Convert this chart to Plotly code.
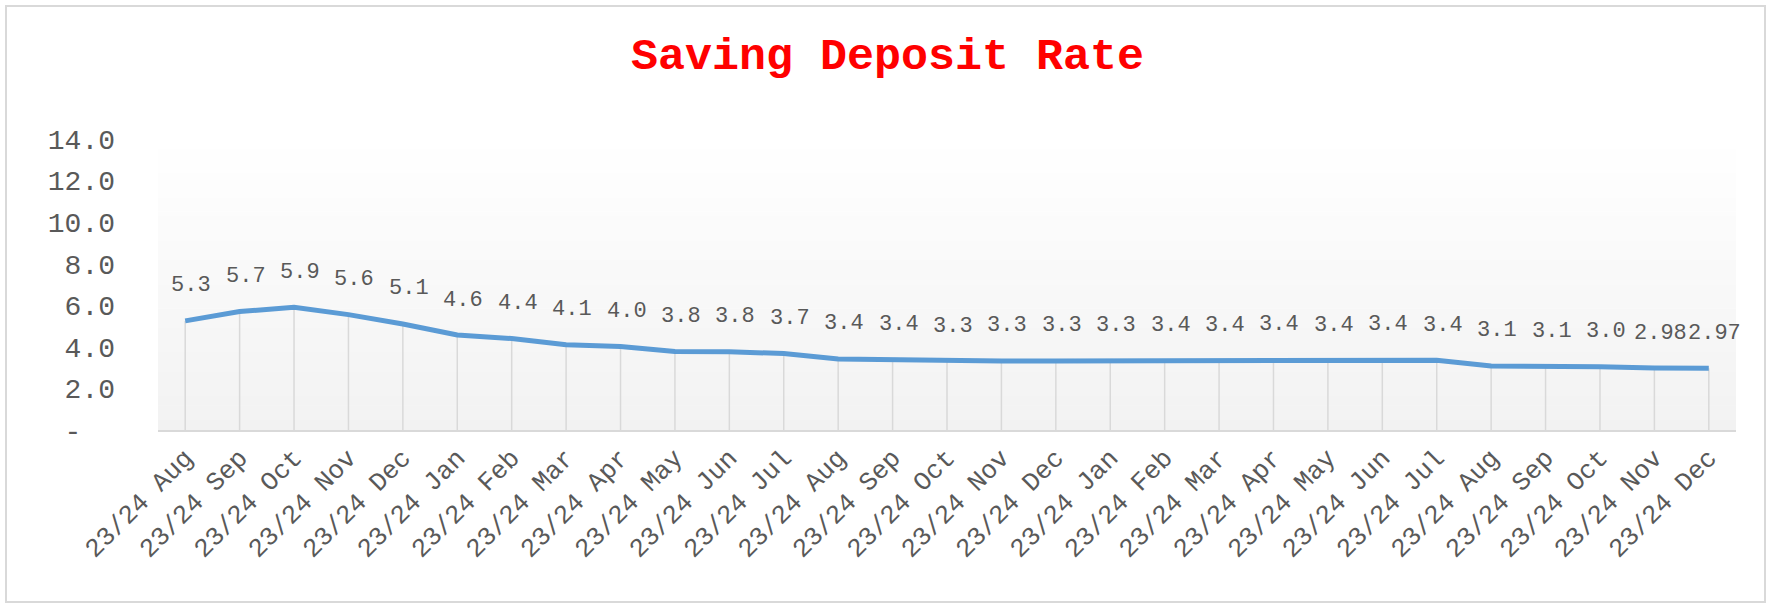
import plotly.graph_objects as go

# categories (fiscal-year month labels, as printed on the chart)
months = [
    "Aug", "Sep", "Oct", "Nov", "Dec", "Jan", "Feb", "Mar", "Apr", "May",
    "Jun", "Jul", "Aug", "Sep", "Oct", "Nov", "Dec", "Jan", "Feb", "Mar",
    "Apr", "May", "Jun", "Jul", "Aug", "Sep", "Oct", "Nov", "Dec",
]
period = "23/24"

# saving deposit rate, %
rates = [
    5.25, 5.70, 5.90, 5.55, 5.10, 4.57, 4.40, 4.10, 4.02, 3.78,
    3.76, 3.68, 3.42, 3.38, 3.30, 3.32, 3.32, 3.32, 3.35, 3.35,
    3.38, 3.36, 3.38, 3.36, 3.08, 3.07, 3.04, 2.98, 2.97,
]
rate_labels = [
    "5.3", "5.7", "5.9", "5.6", "5.1", "4.6", "4.4", "4.1", "4.0", "3.8",
    "3.8", "3.7", "3.4", "3.4", "3.3", "3.3", "3.3", "3.3", "3.4", "3.4",
    "3.4", "3.4", "3.4", "3.4", "3.1", "3.1", "3.0", "2.98", "2.97",
]

y_ticks = [0, 2, 4, 6, 8, 10, 12, 14]
y_tick_text = ["-\u00a0\u00a0", "2.0", "4.0", "6.0", "8.0", "10.0", "12.0", "14.0"]

FONT = "Courier New, Liberation Mono, monospace"
GREY_TEXT = "#595959"
LINE_BLUE = "#5b9bd5"

W, H = 1775, 607
M = {"l": 158, "r": 39, "t": 139, "b": 177}
PW = W - M["l"] - M["r"]
PH = H - M["t"] - M["b"]


def px_x(px):
    return (px - M["l"]) / PW


def px_y(py):
    return (H - M["b"] - py) / PH


x_idx = list(range(len(months)))
x_text = [f"{period} {m}" for m in months]

drop_x, drop_y = [], []
for i, v in zip(x_idx, rates):
    drop_x += [i, i, None]
    drop_y += [0, v, None]

fig = go.Figure()

fig.add_trace(
    go.Scatter(
        x=drop_x,
        y=drop_y,
        mode="lines",
        line={"color": "#d9d9d9", "width": 1.5},
        hoverinfo="skip",
        showlegend=False,
    )
)
fig.add_trace(
    go.Scatter(
        x=x_idx,
        y=rates,
        mode="lines",
        line={"color": LINE_BLUE, "width": 5},
        showlegend=False,
    )
)

for i, v, lab in zip(x_idx, rates, rate_labels):
    fig.add_annotation(
        x=i,
        y=v,
        text=lab,
        showarrow=False,
        yshift=35,
        xshift=6,
        font={"family": FONT, "size": 22, "color": GREY_TEXT},
    )

# vertical white-to-grey gradient for the plot area
shapes = []
bands = 60
for k in range(bands):
    t = k / bands
    c = int(round(242 + (255 - 242) * (t + 0.5 / bands)))
    shapes.append(
        {
            "type": "rect",
            "xref": "x domain",
            "yref": "y domain",
            "x0": 0,
            "x1": 1,
            "y0": t,
            "y1": t + 1 / bands + 0.002,
            "fillcolor": f"rgb({c},{c},{c})",
            "line": {"width": 0},
            "layer": "below",
        }
    )

# outer chart border
shapes.append(
    {
        "type": "rect",
        "xref": "paper",
        "yref": "paper",
        "x0": px_x(6),
        "x1": px_x(1765),
        "y0": px_y(602),
        "y1": px_y(6),
        "line": {"color": "#d9d9d9", "width": 2},
        "fillcolor": "rgba(0,0,0,0)",
        "layer": "below",
    }
)

fig.update_layout(
    width=W,
    height=H,
    margin=M,
    paper_bgcolor="#ffffff",
    plot_bgcolor="#ffffff",
    shapes=shapes,
    title={
        "text": "Saving Deposit Rate",
        "x": 0.5,
        "xanchor": "center",
        "y": 1 - 53 / H,
        "yanchor": "middle",
        "font": {"family": FONT, "size": 45, "color": "#ff0000", "weight": "bold"},
    },
    font={"family": FONT, "color": GREY_TEXT},
)

fig.update_xaxes(
    tickmode="array",
    tickvals=x_idx,
    ticktext=x_text,
    tickangle=-45,
    tickfont={"family": FONT, "size": 26, "color": GREY_TEXT},
    range=[-0.5, len(months) - 0.5],
    showgrid=False,
    zeroline=False,
    showline=True,
    linecolor="#d9d9d9",
    linewidth=2,
    ticks="",
    ticklabelstandoff=0,
)
fig.update_yaxes(
    tickmode="array",
    tickvals=y_ticks,
    ticktext=y_tick_text,
    tickfont={"family": FONT, "size": 28, "color": GREY_TEXT},
    range=[0, 14],
    showgrid=False,
    zeroline=False,
    showline=False,
    ticks="",
    ticklabelstandoff=42,
)

fig.write_html(
    "out.html",
    config={"displayModeBar": False},
    post_script="document.body.style.margin = '0';",
)
